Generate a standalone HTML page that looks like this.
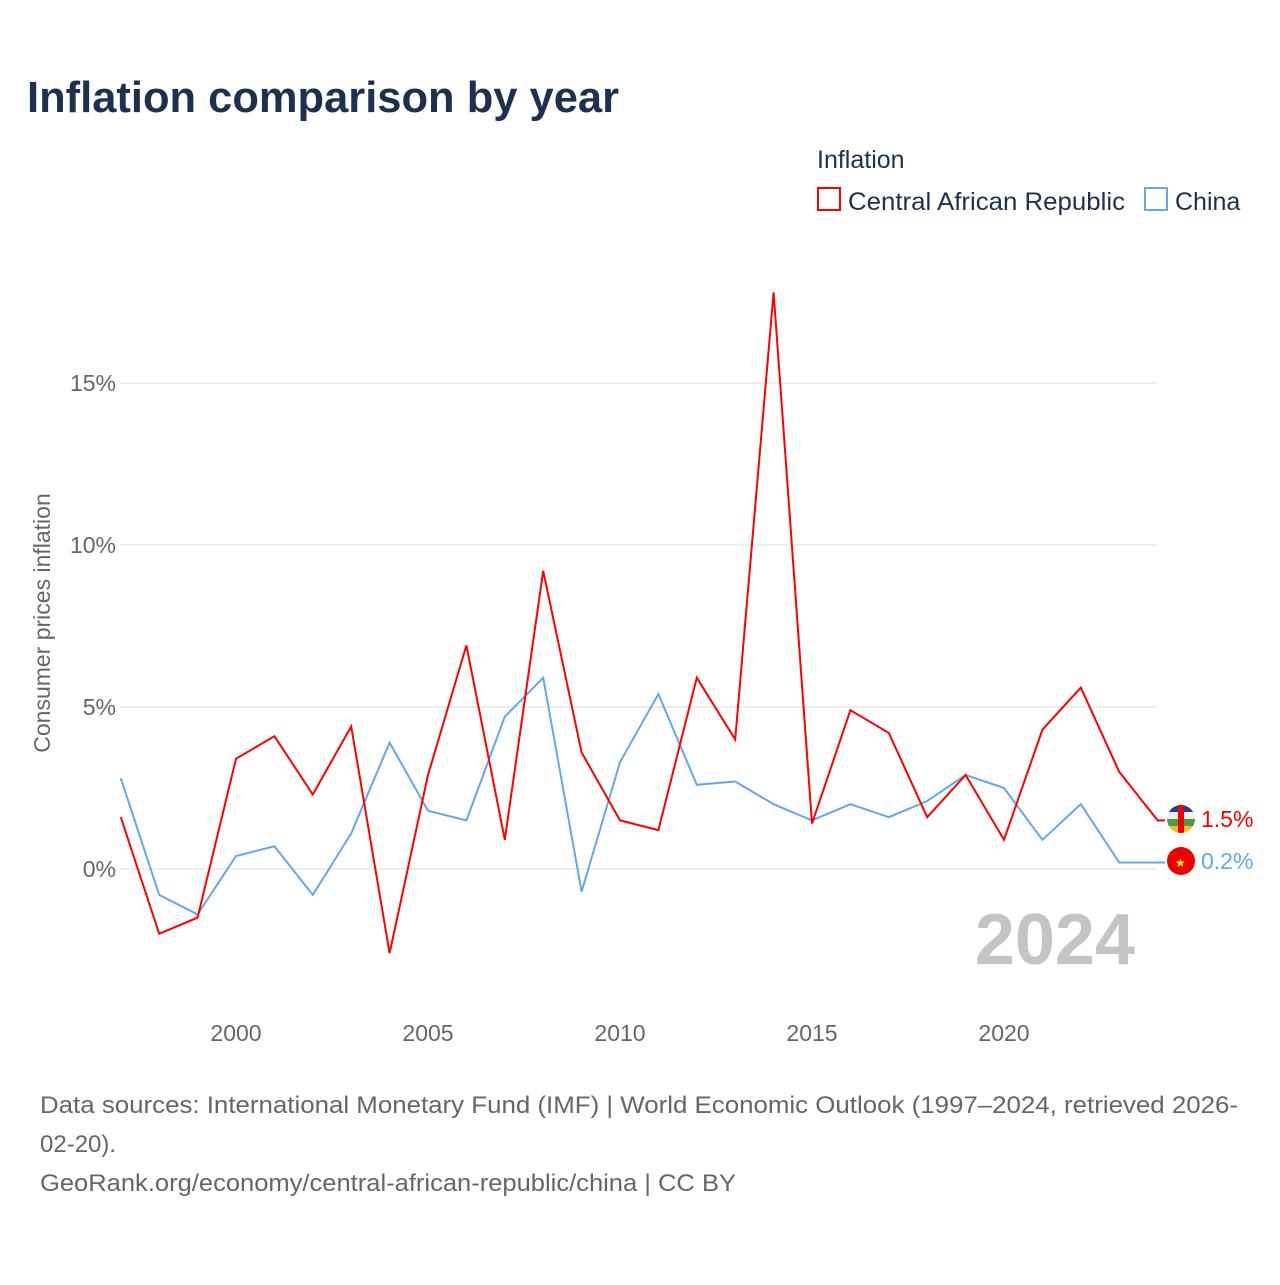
<!DOCTYPE html>
<html><head><meta charset="utf-8"><style>
body{margin:0;background:#fff;font-family:"Liberation Sans",sans-serif;}
svg text{font-family:"Liberation Sans",sans-serif;}
</style></head><body>
<svg id="chart" width="1280" height="1280" viewBox="0 0 1280 1280">
<rect width="1280" height="1280" fill="#fff"/>
<text x="27" y="112" font-size="44" font-weight="bold" fill="#1c3150" textLength="592" lengthAdjust="spacingAndGlyphs">Inflation comparison by year</text>
<text x="817" y="168" font-size="25" fill="#1c3150">Inflation</text>
<g><rect x="818" y="188" width="22" height="22" fill="none" stroke="#f00" stroke-width="2"/><text x="848" y="210" font-size="25" fill="#1c3150" textLength="277" lengthAdjust="spacingAndGlyphs">Central African Republic</text></g>
<g><rect x="1145" y="188" width="22" height="22" fill="none" stroke="#64a8ec" stroke-width="2"/><text x="1175" y="210" font-size="25" fill="#1c3150">China</text></g>
<g id="grid"></g>
<g id="xt"></g>
<text transform="translate(50,623) rotate(-90)" text-anchor="middle" font-size="23" fill="#666">Consumer prices inflation</text>
<text x="1135" y="964" text-anchor="end" font-size="72" font-weight="bold" fill="#c4c4c4">2024</text>
<g id="lines"></g>
<g><clipPath id="c1"><circle cx="1181" cy="819" r="14"/></clipPath><g clip-path="url(#c1)"><rect x="1167" y="805" width="28" height="7" fill="#2a3b8f"/><rect x="1167" y="812" width="28" height="7" fill="#eee"/><rect x="1167" y="819" width="28" height="7" fill="#4a9a4a"/><rect x="1167" y="826" width="28" height="7" fill="#f0c020"/><rect x="1178" y="805" width="6" height="28" fill="#e00"/></g></g>
<g><circle cx="1181" cy="861" r="14" fill="#e00"/><text x="1175" y="867" font-size="12" fill="#ff0">★</text></g>
<text x="1201" y="827" font-size="23" fill="#f00">1.5%</text>
<text x="1201" y="869" font-size="23" fill="#64a8ec">0.2%</text>
<text x="40" y="1113" font-size="24" fill="#666" textLength="1198" lengthAdjust="spacingAndGlyphs">Data sources: International Monetary Fund (IMF) | World Economic Outlook (1997–2024, retrieved 2026-</text>
<text x="40" y="1152" font-size="24" fill="#666">02-20).</text>
<text x="40" y="1191" font-size="24" fill="#666" textLength="696" lengthAdjust="spacingAndGlyphs">GeoRank.org/economy/central-african-republic/china | CC BY</text>
</svg>
<script>
const years=[1997,1998,1999,2000,2001,2002,2003,2004,2005,2006,2007,2008,2009,2010,2011,2012,2013,2014,2015,2016,2017,2018,2019,2020,2021,2022,2023,2024];
const carValues=[1.6,-2.0,-1.5,3.4,4.1,2.3,4.4,-2.6,2.9,6.9,0.9,9.2,3.6,1.5,1.2,5.9,4.0,17.8,1.4,4.9,4.2,1.6,2.9,0.9,4.3,5.6,3.0,1.5];
const chinaValues=[2.8,-0.8,-1.4,0.4,0.7,-0.8,1.1,3.9,1.8,1.5,4.7,5.9,-0.7,3.3,5.4,2.6,2.7,2.0,1.5,2.0,1.6,2.1,2.9,2.5,0.9,2.0,0.2,0.2];
const yTicks=[0,5,10,15];
const xTicks=[2000,2005,2010,2015,2020];
const NS="http://www.w3.org/2000/svg";
const x=v=>120.8+(v-1997)*38.4;
const y=v=>869-v*32.4;
const grid=document.getElementById('grid');
yTicks.forEach(t=>{
 const l=document.createElementNS(NS,'line');
 l.setAttribute('x1',120);l.setAttribute('x2',1157);l.setAttribute('y1',y(t));l.setAttribute('y2',y(t));
 l.setAttribute('stroke','#e8e8e8');l.setAttribute('stroke-width',1.5);
 
 
 grid.appendChild(l);
 const tx=document.createElementNS(NS,'text');
 tx.setAttribute('x',116);tx.setAttribute('y',y(t)+8);tx.setAttribute('text-anchor','end');
 tx.setAttribute('font-size',23);tx.setAttribute('fill','#666');tx.textContent=t+'%';
 
 
 grid.appendChild(tx);
});
const xt=document.getElementById('xt');
xTicks.forEach(t=>{
 const tx=document.createElementNS(NS,'text');
 tx.setAttribute('x',x(t));tx.setAttribute('y',1041);tx.setAttribute('text-anchor','middle');
 tx.setAttribute('font-size',23);tx.setAttribute('fill','#666');tx.textContent=t;
 
 
 xt.appendChild(tx);
});
const lines=document.getElementById('lines');
function draw(vals,color,name){
 let d=vals.map((v,i)=>(i?'L':'M')+x(years[i]).toFixed(1)+','+y(v).toFixed(1)).join(' ');
 d+=' L1165,'+y(vals[vals.length-1]).toFixed(1);
 const p=document.createElementNS(NS,'path');
 p.setAttribute('d',d);p.setAttribute('fill','none');p.setAttribute('stroke',color);p.setAttribute('stroke-width',2);
 
 
 lines.appendChild(p);
}
draw(chinaValues,'#64a8ec','china-line');
draw(carValues,'#f00','car-line');
</script>
</body></html>
